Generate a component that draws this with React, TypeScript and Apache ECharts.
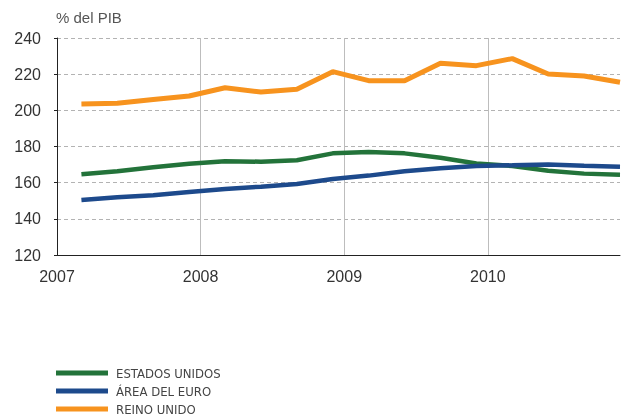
import React, { useEffect, useRef } from "react";
import * as echarts from "echarts";

const dates = [2007.17, 2007.42, 2007.67, 2007.92, 2008.17, 2008.42, 2008.67, 2008.92, 2009.17, 2009.42, 2009.67, 2009.92, 2010.17, 2010.42, 2010.67, 2010.92];
const estadosUnidos = [164.6, 166.3, 168.5, 170.5, 171.8, 171.6, 172.4, 176.2, 177.0, 176.2, 173.8, 170.6, 169.2, 166.6, 165.0, 164.4];
const areaEuro = [150.4, 152.0, 153.0, 154.8, 156.5, 157.8, 159.3, 162.0, 163.9, 166.3, 168.0, 169.2, 169.6, 170.1, 169.4, 168.8];
const reinoUnido = [203.5, 203.9, 206.0, 207.9, 212.5, 210.1, 211.6, 221.4, 216.4, 216.4, 226.0, 224.7, 228.6, 220.1, 219.0, 215.5];
const seriesNames = ["ESTADOS UNIDOS", "ÁREA DEL EURO", "REINO UNIDO"];
const colors = ["#23733a", "#1d4a8c", "#f7931e"];

const pair = (vals: number[]) => vals.map((v, i) => [dates[i], v]);

export default function App() {
  const ref = useRef<HTMLDivElement>(null);
  useEffect(() => {
    if (!ref.current) return;
    const chart = echarts.init(ref.current, undefined, { renderer: "svg" });
    const axisFont = "'Liberation Sans', Arial, sans-serif";
    chart.setOption({
      animation: false,
      title: {
        text: "% del PIB",
        left: 56,
        top: 10,
        padding: 0,
        textStyle: { fontSize: 15, fontWeight: "normal", color: "#555", fontFamily: axisFont },
      },
      grid: { left: 57, right: 2, top: 38, bottom: 162, containLabel: false },
      legend: {
        orient: "vertical",
        left: 56,
        top: 366,
        padding: 0,
        itemWidth: 52,
        itemHeight: 5,
        itemGap: 4,
        icon: "rect",
        textStyle: {
          fontSize: 13,
          lineHeight: 14,
          color: "#444",
          fontFamily: "'Liberation Sans Narrow', 'Arial Narrow', 'DejaVu Sans Condensed', sans-serif",
          padding: [0, 0, 0, 3],
        },
        data: seriesNames,
      },
      xAxis: {
        type: "value",
        min: 2007,
        max: dates[dates.length - 1],
        interval: 1,
        axisLine: { show: true, lineStyle: { color: "#222", width: 1 } },
        axisTick: { show: false },
        axisLabel: {
          fontSize: 16,
          color: "#333",
          fontFamily: axisFont,
          margin: 13,
          showMaxLabel: false,
          formatter: (v: number) => (Number.isInteger(v) ? String(v) : ""),
        },
        splitLine: {
          show: true,
          showMinLine: false,
          showMaxLine: false,
          lineStyle: { color: "#bdbdbd", width: 1, type: "solid" },
        },
      },
      yAxis: {
        type: "value",
        min: 120,
        max: 240,
        interval: 20,
        axisLine: { show: true, lineStyle: { color: "#222", width: 1 } },
        axisTick: { show: true, length: 3, lineStyle: { color: "#222" } },
        axisLabel: { fontSize: 16, color: "#333", fontFamily: axisFont, margin: 16 },
        splitLine: {
          show: true,
          showMinLine: false,
          lineStyle: { color: "#b3b3b3", width: 1, type: [4, 3] },
        },
      },
      series: [
        { name: seriesNames[0], type: "line", data: pair(estadosUnidos), symbol: "none", lineStyle: { width: 4.5, color: colors[0] }, itemStyle: { color: colors[0] } },
        { name: seriesNames[1], type: "line", data: pair(areaEuro), symbol: "none", lineStyle: { width: 4.5, color: colors[1] }, itemStyle: { color: colors[1] } },
        { name: seriesNames[2], type: "line", data: pair(reinoUnido), symbol: "none", lineStyle: { width: 5, color: colors[2] }, itemStyle: { color: colors[2] } },
      ],
    });
    return () => chart.dispose();
  }, []);
  return <div ref={ref} style={{ position: "fixed", left: 0, top: 0, width: 622, height: 417 }} />;
}
